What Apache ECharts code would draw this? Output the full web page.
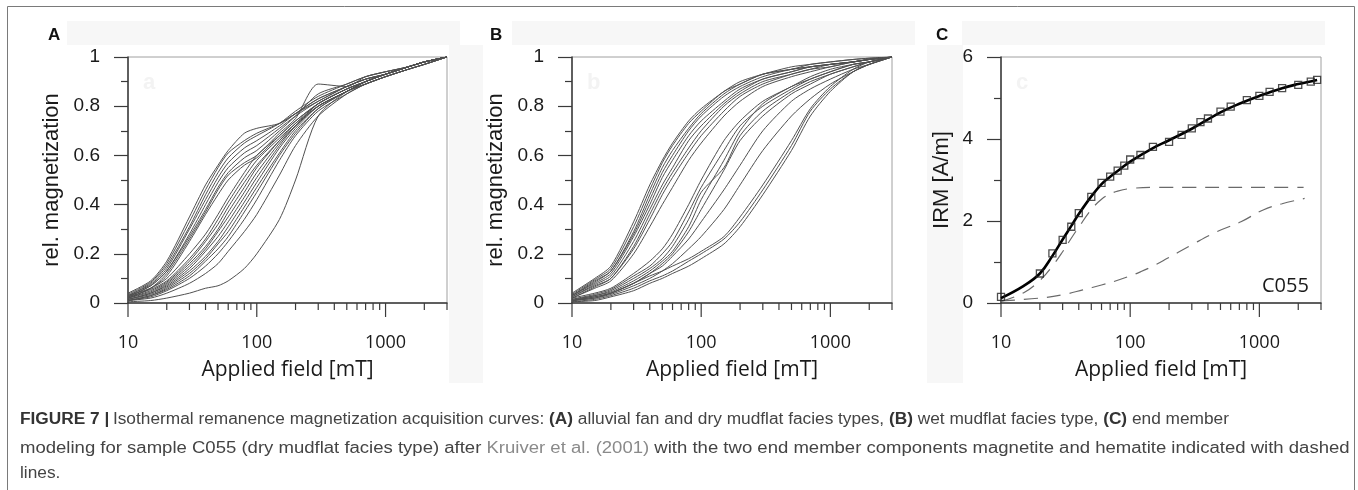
<!DOCTYPE html>
<html><head><meta charset="utf-8">
<script src="https://cdn.jsdelivr.net/npm/echarts@6/dist/echarts.min.js"></script>
<style>html,body{margin:0;padding:0;background:#fff}#c{width:1358px;height:490px}</style>
</head><body><div id="c"></div>
<script>
// ---------- shared field steps (mT) for panels A & B ----------
const fieldsAB = [10,15,20,30,40,50,60,80,100,150,200,300,500,700,1000,1500,2000,3000];

// ---------- Panel A: alluvial fan / dry mudflat (relative magnetization) ----------
const a01 = [0.04,0.09,0.17,0.35,0.48,0.56,0.62,0.69,0.71,0.73,0.77,0.82,0.88,0.91,0.93,0.96,0.98,1];
const a02 = [0.035,0.085,0.16,0.33,0.46,0.55,0.61,0.66,0.69,0.73,0.77,0.83,0.88,0.91,0.93,0.96,0.98,1];
const a03 = [0.03,0.08,0.15,0.31,0.44,0.53,0.59,0.65,0.68,0.73,0.78,0.84,0.89,0.92,0.94,0.96,0.98,1];
const a04 = [0.03,0.075,0.14,0.30,0.42,0.51,0.57,0.63,0.66,0.72,0.77,0.83,0.88,0.91,0.93,0.96,0.98,1];
const a05 = [0.025,0.07,0.13,0.28,0.40,0.49,0.55,0.61,0.64,0.71,0.76,0.82,0.88,0.91,0.93,0.96,0.98,1];
const a06 = [0.025,0.07,0.13,0.27,0.38,0.47,0.53,0.59,0.62,0.70,0.76,0.85,0.89,0.92,0.94,0.96,0.98,1];
const a07 = [0.02,0.06,0.12,0.26,0.37,0.46,0.52,0.57,0.60,0.69,0.75,0.89,0.88,0.92,0.94,0.96,0.98,1];
const a08 = [0.02,0.06,0.11,0.25,0.36,0.44,0.50,0.56,0.59,0.68,0.74,0.81,0.87,0.90,0.93,0.96,0.98,1];
const a09 = [0.03,0.06,0.10,0.20,0.28,0.36,0.43,0.53,0.60,0.68,0.74,0.81,0.87,0.90,0.93,0.96,0.98,1];
const a10 = [0.025,0.055,0.09,0.18,0.26,0.34,0.41,0.51,0.58,0.67,0.73,0.80,0.86,0.90,0.93,0.96,0.98,1];
const a11 = [0.02,0.05,0.085,0.17,0.25,0.32,0.39,0.49,0.56,0.66,0.72,0.80,0.86,0.90,0.93,0.96,0.98,1];
const a12 = [0.02,0.045,0.08,0.16,0.23,0.30,0.37,0.47,0.55,0.66,0.73,0.81,0.87,0.90,0.93,0.96,0.98,1];
const a13 = [0.015,0.04,0.075,0.15,0.22,0.29,0.35,0.45,0.53,0.65,0.72,0.80,0.86,0.90,0.93,0.96,0.98,1];
const a14 = [0.015,0.04,0.07,0.14,0.21,0.27,0.33,0.43,0.51,0.64,0.72,0.81,0.87,0.90,0.93,0.96,0.98,1];
const a15 = [0.015,0.035,0.065,0.13,0.19,0.25,0.31,0.41,0.49,0.63,0.71,0.80,0.86,0.90,0.93,0.96,0.98,1];
const a16 = [0.01,0.03,0.06,0.12,0.18,0.24,0.29,0.39,0.47,0.61,0.70,0.79,0.86,0.89,0.92,0.95,0.97,1];
const a17 = [0.01,0.03,0.055,0.11,0.17,0.22,0.27,0.37,0.45,0.60,0.69,0.79,0.86,0.89,0.92,0.95,0.97,1];
const a18 = [0.01,0.025,0.05,0.10,0.15,0.20,0.25,0.34,0.42,0.58,0.68,0.78,0.85,0.89,0.92,0.95,0.97,1];
const a19 = [0.01,0.02,0.04,0.08,0.12,0.16,0.21,0.29,0.36,0.52,0.64,0.76,0.85,0.89,0.92,0.95,0.97,1];
const a20 = [0.005,0.01,0.02,0.04,0.06,0.07,0.09,0.14,0.20,0.34,0.50,0.76,0.86,0.89,0.92,0.95,0.97,1];
const panelA = [a01,a02,a03,a04,a05,a06,a07,a08,a09,a10,a11,a12,a13,a14,a15,a16,a17,a18,a19,a20];

// ---------- Panel B: wet mudflat (relative magnetization) ----------
const b01 = [0.04,0.10,0.15,0.33,0.48,0.58,0.65,0.74,0.79,0.86,0.90,0.93,0.96,0.97,0.98,0.99,0.995,1];
const b02 = [0.035,0.095,0.14,0.31,0.46,0.57,0.64,0.73,0.78,0.86,0.89,0.93,0.95,0.97,0.98,0.99,0.995,1];
const b03 = [0.03,0.09,0.13,0.29,0.44,0.55,0.62,0.71,0.77,0.85,0.89,0.93,0.95,0.96,0.97,0.98,0.99,1];
const b04 = [0.03,0.085,0.13,0.28,0.42,0.53,0.60,0.70,0.76,0.84,0.88,0.92,0.95,0.96,0.97,0.98,0.99,1];
const b05 = [0.03,0.08,0.12,0.27,0.40,0.51,0.58,0.68,0.74,0.82,0.87,0.91,0.94,0.96,0.97,0.98,0.99,1];
const b06 = [0.025,0.075,0.11,0.25,0.38,0.48,0.55,0.66,0.72,0.81,0.86,0.91,0.94,0.96,0.97,0.98,0.99,1];
const b07 = [0.025,0.07,0.10,0.23,0.36,0.46,0.53,0.63,0.70,0.80,0.85,0.90,0.93,0.95,0.97,0.98,0.99,1];
const b08 = [0.02,0.065,0.10,0.22,0.34,0.44,0.51,0.61,0.68,0.78,0.84,0.89,0.93,0.95,0.96,0.98,0.99,1];
const b09 = [0.02,0.06,0.09,0.20,0.31,0.40,0.47,0.58,0.65,0.76,0.82,0.88,0.92,0.94,0.96,0.98,0.99,1];
const b10 = [0.02,0.04,0.06,0.12,0.17,0.22,0.28,0.40,0.50,0.66,0.74,0.82,0.88,0.92,0.95,0.97,0.98,1];
const b11 = [0.015,0.035,0.055,0.11,0.15,0.20,0.25,0.37,0.47,0.62,0.72,0.80,0.87,0.91,0.94,0.97,0.98,1];
const b12 = [0.015,0.03,0.05,0.10,0.14,0.18,0.23,0.34,0.45,0.55,0.68,0.78,0.86,0.90,0.93,0.96,0.98,1];
const b13 = [0.01,0.03,0.045,0.09,0.13,0.17,0.21,0.31,0.42,0.58,0.70,0.81,0.88,0.91,0.94,0.97,0.98,1];
const b14 = [0.01,0.025,0.04,0.08,0.12,0.16,0.20,0.29,0.38,0.54,0.66,0.76,0.85,0.89,0.93,0.96,0.98,1];
const b15 = [0.01,0.025,0.04,0.08,0.12,0.15,0.19,0.26,0.33,0.46,0.56,0.70,0.82,0.87,0.91,0.95,0.97,1];
const b16 = [0.01,0.02,0.035,0.07,0.10,0.13,0.16,0.22,0.27,0.38,0.48,0.62,0.76,0.83,0.89,0.94,0.97,1];
const b17 = [0.01,0.02,0.04,0.08,0.11,0.13,0.15,0.18,0.21,0.27,0.35,0.48,0.66,0.79,0.88,0.95,0.98,1];
const b18 = [0.005,0.015,0.03,0.06,0.09,0.11,0.13,0.17,0.20,0.26,0.33,0.46,0.64,0.78,0.87,0.94,0.97,1];
const b19 = [0.005,0.01,0.025,0.05,0.08,0.10,0.12,0.15,0.18,0.24,0.31,0.44,0.62,0.76,0.86,0.94,0.97,1];
const panelB = [b01,b02,b03,b04,b05,b06,b07,b08,b09,b10,b11,b12,b13,b14,b15,b16,b17,b18,b19];

// ---------- Panel C: sample C055 (IRM, A/m) ----------
const fieldsC = [10,20,25,30,35,40,50,60,70,80,90,100,120,150,200,250,300,350,400,500,600,800,1000,1200,1500,2000,2500,2800];
const irmC    = [0.15,0.72,1.21,1.54,1.86,2.19,2.59,2.93,3.08,3.23,3.35,3.5,3.61,3.81,3.93,4.1,4.26,4.41,4.5,4.67,4.79,4.95,5.05,5.15,5.24,5.32,5.4,5.44];
const fitFields = [10,15,20,25,30,35,40,50,60,70,80,100,150,200,300,500,700,1000,1500,2000,2800];
const fitVals   = [0.12,0.42,0.72,1.15,1.55,1.88,2.17,2.6,2.9,3.08,3.22,3.45,3.78,3.97,4.25,4.65,4.86,5.05,5.24,5.34,5.44];
const magFields = [10,15,20,25,30,35,40,50,60,70,80,100,150,200,300,500,1000,2200];
const magVals   = [0.04,0.25,0.55,0.9,1.25,1.58,1.85,2.28,2.53,2.66,2.73,2.79,2.82,2.82,2.82,2.82,2.82,2.82];
const hemFields = [10,20,30,43,60,74,100,120,150,194,300,470,720,1070,1500,2240];
const hemVals   = [0.05,0.12,0.2,0.32,0.44,0.52,0.66,0.76,0.9,1.09,1.42,1.74,1.98,2.27,2.42,2.55];

// ---------- axis ticks / labels ----------
const majorTicks = [10,100,1000];
const minorTicks = [20,30,40,50,60,70,80,90,200,300,400,500,600,700,800,900,2000,3000];
const xTitle = 'Applied field [mT]';
const yTitleAB = 'rel. magnetization';
const yTitleC = 'IRM [A/m]';
const panelLetters = ['A','B','C'];
const sampleLabel = 'C055';

const chart = echarts.init(document.getElementById('c'), null, {renderer:'canvas'});

const grids = [
  {left:128, top:57, width:319, height:246},
  {left:572, top:57, width:320, height:246},
  {left:1001, top:57, width:320, height:246}
];

const axisCol = '#3a3a3a';
function xAxisFor(i){
  return {
    type:'log', logBase:10, min:10, max:3000, gridIndex:i,
    axisLine:{show:true, lineStyle:{color:axisCol, width:1.5}},
    axisTick:{show:false},
    splitLine:{show:false},
    axisLabel:{margin:31, color:'#1a1a1a', fontFamily:'Open Sans', fontSize:18,
      formatter:v => (majorTicks.indexOf(Math.round(v))>=0 ? String(Math.round(v)) : '')},
    name:xTitle, nameLocation:'middle', nameGap:57,
    nameTextStyle:{fontFamily:'Open Sans', fontSize:21, color:'#1a1a1a'}
  };
}
function yAxisFor(i, max, interval, name, gap){
  return {
    type:'value', min:0, max:max, interval:interval, gridIndex:i,
    axisLine:{show:true, lineStyle:{color:axisCol, width:1.5}},
    axisTick:{show:true, length:14, lineStyle:{color:axisCol, width:1.2}},
    minorTick:{show:true, splitNumber:2, length:7, lineStyle:{color:axisCol, width:1.2}},
    splitLine:{show:false}, minorSplitLine:{show:false},
    axisLabel:{margin:28, color:'#1a1a1a', fontFamily:'Liberation Sans', fontSize:19},
    name:name, nameLocation:'middle', nameGap:gap,
    nameTextStyle:{fontFamily:'Liberation Sans', fontSize:22, color:'#1a1a1a'}
  };
}

function tickSeries(idx, vals, len){
  return {
    type:'custom', xAxisIndex:idx, yAxisIndex:idx, clip:false, silent:true, z:5,
    data: vals.map(v => [v, 0]),
    renderItem:(params, api) => {
      const p = api.coord([api.value(0), api.value(1)]);
      return {type:'line', shape:{x1:p[0], y1:p[1], x2:p[0], y2:p[1]+len},
              style:{stroke:axisCol, lineWidth:1.2}};
    }
  };
}

const series = [];
panelA.forEach(arr => series.push({
  type:'line', xAxisIndex:0, yAxisIndex:0, showSymbol:false, smooth:0.25, silent:true,
  data: fieldsAB.map((f,i)=>[f, arr[i]]),
  lineStyle:{color:'#505050', width:1}
}));
panelB.forEach(arr => series.push({
  type:'line', xAxisIndex:1, yAxisIndex:1, showSymbol:false, smooth:0.25, silent:true,
  data: fieldsAB.map((f,i)=>[f, arr[i]]),
  lineStyle:{color:'#505050', width:1}
}));
series.push({
  type:'line', xAxisIndex:2, yAxisIndex:2, showSymbol:false, smooth:0.4, silent:true,
  data: magFields.map((f,i)=>[f, magVals[i]]),
  lineStyle:{color:'#6a6a6a', width:1.2, type:[14,9]}
});
series.push({
  type:'line', xAxisIndex:2, yAxisIndex:2, showSymbol:false, smooth:0.4, silent:true,
  data: hemFields.map((f,i)=>[f, hemVals[i]]),
  lineStyle:{color:'#6a6a6a', width:1.2, type:[14,9]}
});
series.push({
  type:'line', xAxisIndex:2, yAxisIndex:2, showSymbol:false, smooth:0.4, silent:true,
  data: fitFields.map((f,i)=>[f, fitVals[i]]),
  lineStyle:{color:'#000', width:2.6}
});
series.push({
  type:'scatter', xAxisIndex:2, yAxisIndex:2, symbol:'rect', symbolSize:7, silent:true, z:4,
  data: fieldsC.map((f,i)=>[f, irmC[i]]),
  itemStyle:{color:'rgba(255,255,255,0)', borderColor:'#222', borderWidth:1.3}
});
for (let i=0;i<3;i++){
  series.push(tickSeries(i, majorTicks, 14));
  series.push(tickSeries(i, minorTicks, 7));
}

const caption1 = '{b|FIGURE 7 |} {n|Isothermal remanence magnetization acquisition curves: }{b|(A)}{n| alluvial fan and dry mudflat facies types, }{b|(B)}{n| wet mudflat facies type, }{b|(C)}{n| end member}';
const caption2 = '{n|modeling for sample C055 (dry mudflat facies type) after }{l|Kruiver et al. (2001)}{n| with the two end member components magnetite and hematite indicated with dashed}';
const caption3 = '{n|lines.}';
const capRich = {
  b:{fontFamily:'Liberation Sans', fontSize:16, fontWeight:'bold', fill:'#333'},
  n:{fontFamily:'Liberation Sans', fontSize:16, fill:'#444'},
  l:{fontFamily:'Liberation Sans', fontSize:16, fill:'#8a8a8a'}
};

const bg = '#f7f7f7';
const graphic = [
  {type:'rect', z:-10, shape:{x:67, y:21, width:393, height:24}, style:{fill:bg}},
  {type:'rect', z:-10, shape:{x:512, y:21, width:403, height:24}, style:{fill:bg}},
  {type:'rect', z:-10, shape:{x:962, y:21, width:363, height:24}, style:{fill:bg}},
  {type:'rect', z:-10, shape:{x:449, y:45, width:34, height:338}, style:{fill:bg}},
  {type:'rect', z:-10, shape:{x:927, y:45, width:36, height:338}, style:{fill:bg}},
  {type:'rect', z:20, shape:{x:7.5, y:6.5, width:1347, height:495}, style:{fill:'none', stroke:'#7a7a7a', lineWidth:1}},
  {type:'text', z:20, x:48, y:27, style:{text:panelLetters[0], font:'bold 17px "Liberation Sans"', fill:'#111'}},
  {type:'text', z:20, x:490, y:27, style:{text:panelLetters[1], font:'bold 17px "Liberation Sans"', fill:'#111'}},
  {type:'text', z:20, x:936, y:27, style:{text:panelLetters[2], font:'bold 17px "Liberation Sans"', fill:'#111'}},
  {type:'text', z:1, x:143, y:72, style:{text:'a', font:'bold 22px "Liberation Sans"', fill:'#f3f3f3'}},
  {type:'text', z:1, x:587, y:72, style:{text:'b', font:'bold 22px "Liberation Sans"', fill:'#f3f3f3'}},
  {type:'text', z:1, x:1016, y:72, style:{text:'c', font:'bold 22px "Liberation Sans"', fill:'#f3f3f3'}},
  {type:'text', z:20, x:1262, y:276, style:{text:sampleLabel, font:'20px "Open Sans"', fill:'#1a1a1a'}},
  {type:'text', z:20, x:20, y:412, scaleX:1.08, style:{text:caption1, rich:capRich}},
  {type:'text', z:20, x:20, y:441, scaleX:1.158, style:{text:caption2, rich:capRich}},
  {type:'text', z:20, x:20, y:466, scaleX:1.08, style:{text:caption3, rich:capRich}}
];

chart.setOption({
  animation:false,
  backgroundColor:'#fff',
  grid: grids.map(g => Object.assign({show:true, borderColor:'#a0a0a0', borderWidth:1, backgroundColor:'#fff', containLabel:false}, g)),
  xAxis:[xAxisFor(0), xAxisFor(1), xAxisFor(2)],
  yAxis:[yAxisFor(0,1,0.2,yTitleAB,65), yAxisFor(1,1,0.2,yTitleAB,65), yAxisFor(2,6,2,yTitleC,48)],
  series: series,
  graphic: graphic
});
</script>
</body></html>
